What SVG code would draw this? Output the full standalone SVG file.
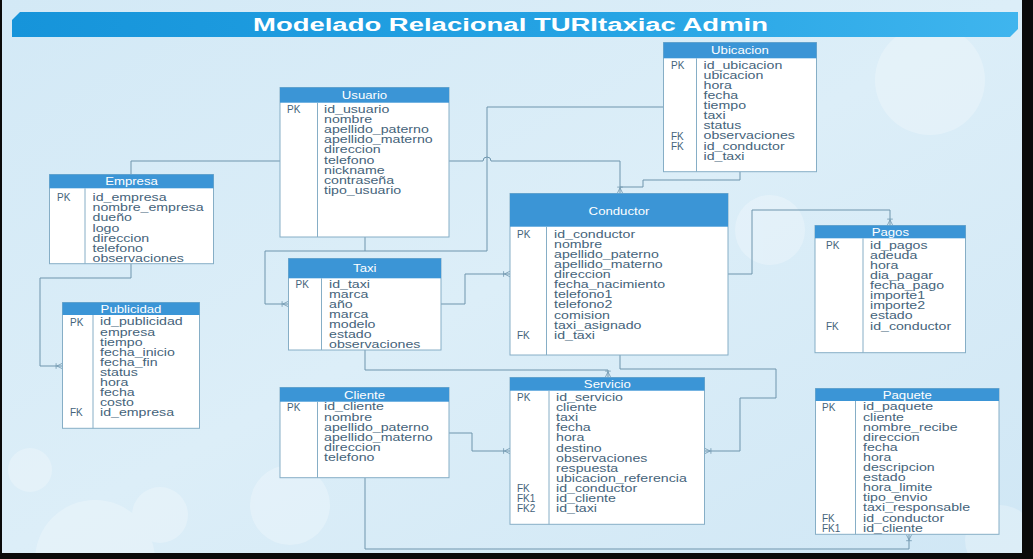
<svg xmlns="http://www.w3.org/2000/svg" width="1033" height="559" viewBox="0 0 1033 559">
<defs>
<linearGradient id="bg" x1="0" y1="0" x2="1" y2="1">
<stop offset="0" stop-color="#d3e9f6"/>
<stop offset="0.5" stop-color="#dceef8"/>
<stop offset="1" stop-color="#d0e7f5"/>
</linearGradient>
<linearGradient id="ban" x1="0" y1="0" x2="1" y2="0">
<stop offset="0" stop-color="#1694da"/>
<stop offset="0.6" stop-color="#26a4e4"/>
<stop offset="1" stop-color="#3fb5ee"/>
</linearGradient>
<clipPath id="inner"><rect x="2" y="0" width="1020" height="553"/></clipPath>
<marker id="crow" viewBox="0 0 10 10" refX="10" refY="5" markerWidth="8" markerHeight="8" markerUnits="userSpaceOnUse" orient="auto">
<path d="M3,5 L10,1.5 M3,5 L10,8.5 M2,1.5 L2,8.5" fill="none" stroke="#6e95ad" stroke-width="1"/>
</marker>
</defs>
<style>
.tb{fill:#ffffff;stroke:#86aec6;stroke-width:1}
.hd{fill:#3b95d6}
.dv{stroke:#86aec6;stroke-width:1}
.ht{font-family:"Liberation Sans",Arial,sans-serif;font-size:11px;fill:#ffffff;text-anchor:middle}
.fd{font-family:"Liberation Sans",Arial,sans-serif;font-size:10.5px;fill:#45637a}
.ky{font-family:"Liberation Sans",Arial,sans-serif;font-size:10px;fill:#45637a}
.cn{fill:none;stroke:#6e95ad;stroke-width:1}
</style>
<rect x="0" y="0" width="1033" height="559" fill="#0a0a0a"/>
<rect x="2" y="0" width="1020" height="553" fill="url(#bg)"/>
<g opacity="0.25" fill="#ffffff" clip-path="url(#inner)">
<circle cx="95" cy="560" r="60"/>
<circle cx="160" cy="515" r="28"/>
<circle cx="30" cy="470" r="22"/>
<circle cx="290" cy="505" r="40"/>
<circle cx="930" cy="80" r="55"/>
<circle cx="770" cy="230" r="35"/>
<circle cx="1000" cy="540" r="35"/>
</g>
<path d="M20,12 L1018,12 L1018,29 L1010,37 L12,37 L12,20 Z" fill="url(#ban)"/>
<text x="253" y="31" textLength="515" lengthAdjust="spacingAndGlyphs" font-family="Liberation Sans,Arial,sans-serif" font-weight="bold" font-size="18" fill="#ffffff">Modelado Relacional TURItaxiac Admin</text>

<g id="connectors">
<polyline class="cn" points="131,174.5 131,161 280,161"/>
<path class="cn" d="M449,161 L483,161 A4,4 0 0 1 491,161 L620,161 L620,193.5" marker-end="url(#crow)"/>
<polyline class="cn" points="663.5,107 487,107 487,251 365,251"/>
<polyline class="cn" points="365,237 365,251 265,251 265,304 288.5,304" marker-end="url(#crow)"/>
<polyline class="cn" points="740,171.7 740,180 643,180 643,187 620,187"/>
<polyline class="cn" points="441,304 465,304 465,274 510,274" marker-end="url(#crow)"/>
<polyline class="cn" points="728,274 752,274 752,210 890,210 890,225.5" marker-end="url(#crow)"/>
<polyline class="cn" points="365,350 365,370 608,370 608,377.5" marker-end="url(#crow)"/>
<polyline class="cn" points="620,355 620,369 776,369 776,398 740,398 740,451 704.5,451" marker-end="url(#crow)"/>
<polyline class="cn" points="449,433 472,433 472,451 510,451" marker-end="url(#crow)"/>
<polyline class="cn" points="365,477.7 365,549 909,549 909,534.3" marker-end="url(#crow)"/>
<polyline class="cn" points="131,263.7 131,278 40,278 40,366 62.5,366" marker-end="url(#crow)"/>
</g>

<g id="usuario">
<rect class="tb" x="280" y="87.5" width="169" height="149.5"/>
<rect class="hd" x="280" y="87.5" width="169" height="15.2"/>
<line class="dv" x1="317.5" y1="102.7" x2="317.5" y2="237"/>
<text class="ht" transform="translate(364.5 99) scale(1.2 1)">Usuario</text>
<text class="ky" x="287" y="113.1">PK</text>
<g transform="translate(324 0) scale(1.35 1)"><text class="fd" y="113.1"><tspan x="0">id_usuario</tspan><tspan x="0" dy="10.1">nombre</tspan><tspan x="0" dy="10.1">apellido_paterno</tspan><tspan x="0" dy="10.1">apellido_materno</tspan><tspan x="0" dy="10.1">direccion</tspan><tspan x="0" dy="10.1">telefono</tspan><tspan x="0" dy="10.1">nickname</tspan><tspan x="0" dy="10.1">contraseña</tspan><tspan x="0" dy="10.1">tipo_usuario</tspan></text></g>
</g>

<g id="empresa">
<rect class="tb" x="49.5" y="174.5" width="164" height="89.2"/>
<rect class="hd" x="49.5" y="174.5" width="164" height="13.8"/>
<line class="dv" x1="85" y1="188.3" x2="85" y2="263.7"/>
<text class="ht" transform="translate(131.5 185.3) scale(1.2 1)">Empresa</text>
<text class="ky" x="57" y="201.3">PK</text>
<g transform="translate(92.5 0) scale(1.35 1)"><text class="fd" y="201.3"><tspan x="0">id_empresa</tspan><tspan x="0" dy="10.1">nombre_empresa</tspan><tspan x="0" dy="10.1">dueño</tspan><tspan x="0" dy="10.1">logo</tspan><tspan x="0" dy="10.1">direccion</tspan><tspan x="0" dy="10.1">telefono</tspan><tspan x="0" dy="10.1">observaciones</tspan></text></g>
</g>

<g id="publicidad">
<rect class="tb" x="62.5" y="302.5" width="137" height="125.8"/>
<rect class="hd" x="62.5" y="302.5" width="137" height="12.5"/>
<line class="dv" x1="93" y1="315" x2="93" y2="428.3"/>
<text class="ht" transform="translate(131 312.8) scale(1.2 1)">Publicidad</text>
<text class="ky" x="70" y="325.5">PK</text>
<text class="ky" x="70" y="416.4">FK</text>
<g transform="translate(100 0) scale(1.35 1)"><text class="fd" y="325.5"><tspan x="0">id_publicidad</tspan><tspan x="0" dy="10.1">empresa</tspan><tspan x="0" dy="10.1">tiempo</tspan><tspan x="0" dy="10.1">fecha_inicio</tspan><tspan x="0" dy="10.1">fecha_fin</tspan><tspan x="0" dy="10.1">status</tspan><tspan x="0" dy="10.1">hora</tspan><tspan x="0" dy="10.1">fecha</tspan><tspan x="0" dy="10.1">costo</tspan><tspan x="0" dy="10.1">id_empresa</tspan></text></g>
</g>

<g id="ubicacion">
<rect class="tb" x="663.5" y="42.5" width="153" height="129.2"/>
<rect class="hd" x="663.5" y="42.5" width="153" height="15.8"/>
<line class="dv" x1="696.5" y1="58.3" x2="696.5" y2="171.7"/>
<text class="ht" transform="translate(740 54.3) scale(1.2 1)">Ubicacion</text>
<text class="ky" x="671" y="68.8">PK</text>
<text class="ky" x="671" y="139.5">FK</text>
<text class="ky" x="671" y="149.6">FK</text>
<g transform="translate(703.5 0) scale(1.35 1)"><text class="fd" y="68.8"><tspan x="0">id_ubicacion</tspan><tspan x="0" dy="10.1">ubicacion</tspan><tspan x="0" dy="10.1">hora</tspan><tspan x="0" dy="10.1">fecha</tspan><tspan x="0" dy="10.1">tiempo</tspan><tspan x="0" dy="10.1">taxi</tspan><tspan x="0" dy="10.1">status</tspan><tspan x="0" dy="10.1">observaciones</tspan><tspan x="0" dy="10.1">id_conductor</tspan><tspan x="0" dy="10.1">id_taxi</tspan></text></g>
</g>

<g id="conductor">
<rect class="tb" x="510" y="193.5" width="218" height="161.5"/>
<rect class="hd" x="510" y="193.5" width="218" height="33.2"/>
<line class="dv" x1="546.5" y1="226.7" x2="546.5" y2="355"/>
<text class="ht" transform="translate(619 215) scale(1.2 1)">Conductor</text>
<text class="ky" x="517" y="237.8">PK</text>
<text class="ky" x="517" y="338.8">FK</text>
<g transform="translate(554 0) scale(1.35 1)"><text class="fd" y="237.8"><tspan x="0">id_conductor</tspan><tspan x="0" dy="10.1">nombre</tspan><tspan x="0" dy="10.1">apellido_paterno</tspan><tspan x="0" dy="10.1">apellido_materno</tspan><tspan x="0" dy="10.1">direccion</tspan><tspan x="0" dy="10.1">fecha_nacimiento</tspan><tspan x="0" dy="10.1">telefono1</tspan><tspan x="0" dy="10.1">telefono2</tspan><tspan x="0" dy="10.1">comision</tspan><tspan x="0" dy="10.1">taxi_asignado</tspan><tspan x="0" dy="10.1">id_taxi</tspan></text></g>
</g>

<g id="taxi">
<rect class="tb" x="288.5" y="258.5" width="152.5" height="91.5"/>
<rect class="hd" x="288.5" y="258.5" width="152.5" height="19.8"/>
<line class="dv" x1="321.5" y1="278.3" x2="321.5" y2="350"/>
<text class="ht" transform="translate(364.8 272.3) scale(1.2 1)">Taxi</text>
<text class="ky" x="295.5" y="287.8">PK</text>
<g transform="translate(329 0) scale(1.35 1)"><text class="fd" y="287.8"><tspan x="0">id_taxi</tspan><tspan x="0" dy="10.1">marca</tspan><tspan x="0" dy="10.1">año</tspan><tspan x="0" dy="10.1">marca</tspan><tspan x="0" dy="10.1">modelo</tspan><tspan x="0" dy="10.1">estado</tspan><tspan x="0" dy="10.1">observaciones</tspan></text></g>
</g>

<g id="pagos">
<rect class="tb" x="815" y="225.5" width="150.5" height="127.2"/>
<rect class="hd" x="815" y="225.5" width="150.5" height="12.8"/>
<line class="dv" x1="863" y1="238.3" x2="863" y2="352.7"/>
<text class="ht" transform="translate(890.3 235.8) scale(1.2 1)">Pagos</text>
<text class="ky" x="826" y="248.8">PK</text>
<text class="ky" x="826" y="329.6">FK</text>
<g transform="translate(870 0) scale(1.35 1)"><text class="fd" y="248.8"><tspan x="0">id_pagos</tspan><tspan x="0" dy="10.1">adeuda</tspan><tspan x="0" dy="10.1">hora</tspan><tspan x="0" dy="10.1">dia_pagar</tspan><tspan x="0" dy="10.1">fecha_pago</tspan><tspan x="0" dy="10.1">importe1</tspan><tspan x="0" dy="10.1">importe2</tspan><tspan x="0" dy="10.1">estado</tspan><tspan x="0" dy="10.1">id_conductor</tspan></text></g>
</g>

<g id="cliente">
<rect class="tb" x="280" y="387.5" width="169" height="90.2"/>
<rect class="hd" x="280" y="387.5" width="169" height="14.2"/>
<line class="dv" x1="317.5" y1="401.7" x2="317.5" y2="477.7"/>
<text class="ht" transform="translate(364.5 398.5) scale(1.2 1)">Cliente</text>
<text class="ky" x="287" y="410.5">PK</text>
<g transform="translate(324 0) scale(1.35 1)"><text class="fd" y="410.5"><tspan x="0">id_cliente</tspan><tspan x="0" dy="10.1">nombre</tspan><tspan x="0" dy="10.1">apellido_paterno</tspan><tspan x="0" dy="10.1">apellido_materno</tspan><tspan x="0" dy="10.1">direccion</tspan><tspan x="0" dy="10.1">telefono</tspan></text></g>
</g>

<g id="servicio">
<rect class="tb" x="510" y="377.5" width="194.5" height="146.8"/>
<rect class="hd" x="510" y="377.5" width="194.5" height="13.2"/>
<line class="dv" x1="549" y1="390.7" x2="549" y2="524.3"/>
<text class="ht" transform="translate(607.3 388.2) scale(1.2 1)">Servicio</text>
<text class="ky" x="517" y="401.1">PK</text>
<text class="ky" x="517" y="492">FK</text>
<text class="ky" x="517" y="502.1">FK1</text>
<text class="ky" x="517" y="512.2">FK2</text>
<g transform="translate(556 0) scale(1.35 1)"><text class="fd" y="401.1"><tspan x="0">id_servicio</tspan><tspan x="0" dy="10.1">cliente</tspan><tspan x="0" dy="10.1">taxi</tspan><tspan x="0" dy="10.1">fecha</tspan><tspan x="0" dy="10.1">hora</tspan><tspan x="0" dy="10.1">destino</tspan><tspan x="0" dy="10.1">observaciones</tspan><tspan x="0" dy="10.1">respuesta</tspan><tspan x="0" dy="10.1">ubicacion_referencia</tspan><tspan x="0" dy="10.1">id_conductor</tspan><tspan x="0" dy="10.1">id_cliente</tspan><tspan x="0" dy="10.1">id_taxi</tspan></text></g>
</g>

<g id="paquete">
<rect class="tb" x="815.5" y="388.5" width="183.5" height="145.8"/>
<rect class="hd" x="815.5" y="388.5" width="183.5" height="12.5"/>
<line class="dv" x1="855.5" y1="401" x2="855.5" y2="534.3"/>
<text class="ht" transform="translate(907.3 398.8) scale(1.2 1)">Paquete</text>
<text class="ky" x="822" y="410.5">PK</text>
<text class="ky" x="822" y="521.6">FK</text>
<text class="ky" x="822" y="531.7">FK1</text>
<g transform="translate(863 0) scale(1.35 1)"><text class="fd" y="410.5"><tspan x="0">id_paquete</tspan><tspan x="0" dy="10.1">cliente</tspan><tspan x="0" dy="10.1">nombre_recibe</tspan><tspan x="0" dy="10.1">direccion</tspan><tspan x="0" dy="10.1">fecha</tspan><tspan x="0" dy="10.1">hora</tspan><tspan x="0" dy="10.1">descripcion</tspan><tspan x="0" dy="10.1">estado</tspan><tspan x="0" dy="10.1">hora_limite</tspan><tspan x="0" dy="10.1">tipo_envio</tspan><tspan x="0" dy="10.1">taxi_responsable</tspan><tspan x="0" dy="10.1">id_conductor</tspan><tspan x="0" dy="10.1">id_cliente</tspan></text></g>
</g>
</svg>
